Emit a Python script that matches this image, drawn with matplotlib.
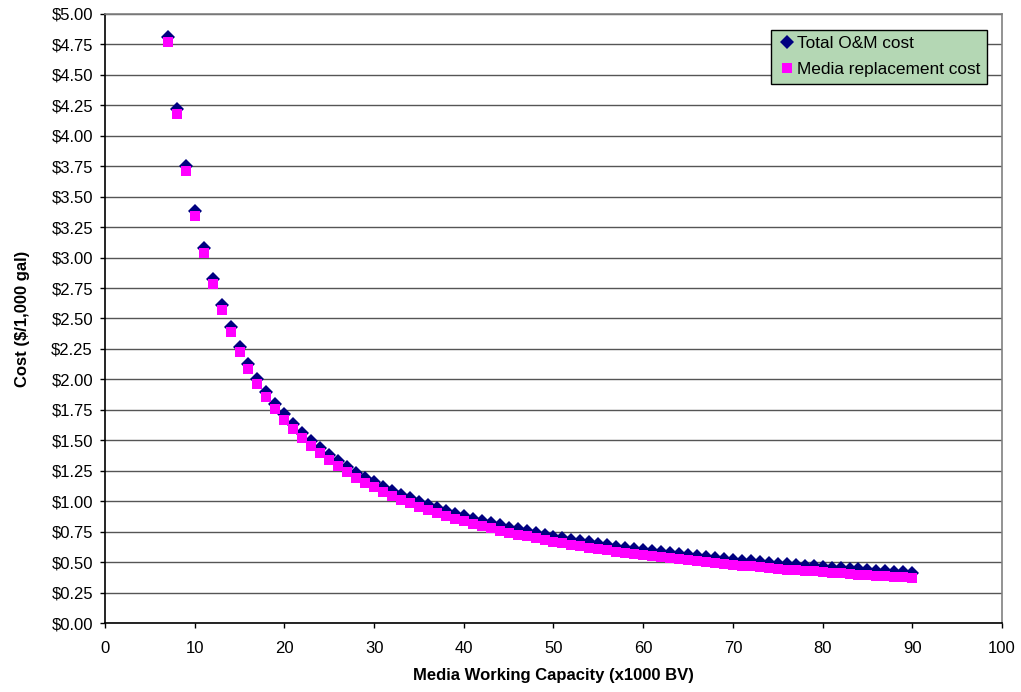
import matplotlib
matplotlib.use("Agg")
import matplotlib.pyplot as plt
from matplotlib.ticker import FuncFormatter, MultipleLocator

plt.rcParams['font.family'] = ['Liberation Sans', 'DejaVu Sans']

capacity = list(range(7, 91))
total_om = [4.813, 4.217, 3.753, 3.382, 3.078, 2.825, 2.611, 2.428, 2.269, 2.130,
            2.007, 1.898, 1.800, 1.712, 1.632, 1.560, 1.494, 1.434, 1.378, 1.327,
            1.279, 1.235, 1.194, 1.155, 1.119, 1.086, 1.054, 1.024, 0.996, 0.970,
            0.945, 0.921, 0.898, 0.877, 0.857, 0.837, 0.819, 0.801, 0.784, 0.768,
            0.753, 0.738, 0.724, 0.710, 0.697, 0.684, 0.672, 0.661, 0.649, 0.638,
            0.628, 0.618, 0.608, 0.599, 0.590, 0.581, 0.572, 0.564, 0.556, 0.548,
            0.541, 0.533, 0.526, 0.519, 0.512, 0.506, 0.500, 0.493, 0.487, 0.481,
            0.476, 0.470, 0.465, 0.460, 0.454, 0.449, 0.444, 0.440, 0.435, 0.430,
            0.426, 0.422, 0.417, 0.413]
media_cost = [4.771, 4.175, 3.711, 3.340, 3.036, 2.783, 2.569, 2.386, 2.227, 2.088,
              1.965, 1.856, 1.758, 1.670, 1.590, 1.518, 1.452, 1.392, 1.336, 1.285,
              1.237, 1.193, 1.152, 1.113, 1.077, 1.044, 1.012, 0.982, 0.954, 0.928,
              0.903, 0.879, 0.856, 0.835, 0.815, 0.795, 0.777, 0.759, 0.742, 0.726,
              0.711, 0.696, 0.682, 0.668, 0.655, 0.642, 0.630, 0.619, 0.607, 0.596,
              0.586, 0.576, 0.566, 0.557, 0.548, 0.539, 0.530, 0.522, 0.514, 0.506,
              0.499, 0.491, 0.484, 0.477, 0.470, 0.464, 0.458, 0.451, 0.445, 0.439,
              0.434, 0.428, 0.423, 0.418, 0.412, 0.407, 0.402, 0.398, 0.393, 0.388,
              0.384, 0.380, 0.375, 0.371]
series_names = ["Total O&M cost", "Media replacement cost"]

fig = plt.figure(figsize=(10.21, 6.92), dpi=100)
ax = fig.add_axes([0.1028, 0.0997, 0.8786, 0.8801])

ax.plot(capacity, total_om, linestyle='none', marker='D', markersize=7.2,
        color='#000080', markeredgewidth=0, label=series_names[0], zorder=3)
ax.plot(capacity, media_cost, linestyle='none', marker='s', markersize=7.2,
        color='#FF00FF', markeredgewidth=0, label=series_names[1], zorder=4)

ax.set_xlim(0, 100)
ax.set_ylim(0, 5)
ax.xaxis.set_major_locator(MultipleLocator(10))
ax.yaxis.set_major_locator(MultipleLocator(0.25))
ax.yaxis.set_major_formatter(FuncFormatter(lambda v, p: f"${v:.2f}"))
ax.grid(axis='y', color='#555555', linewidth=1.0, zorder=0)
ax.set_axisbelow(True)

for s in ['left', 'bottom']:
    ax.spines[s].set_color('black')
    ax.spines[s].set_linewidth(1.2)
for s in ['right', 'top']:
    ax.spines[s].set_color('#808080')
    ax.spines[s].set_linewidth(1.2)

ax.tick_params(axis='both', direction='out', length=3.6, width=1, labelsize=12,
               colors='black')
ax.tick_params(axis='y', pad=5)
ax.tick_params(axis='x', pad=9)

ax.set_xlabel("Media Working Capacity (x1000 BV)", fontsize=12, fontweight='bold', labelpad=9)
ax.set_ylabel("Cost ($/1,000 gal)", fontsize=12, fontweight='bold', labelpad=15)

leg = ax.legend(loc='upper right', bbox_to_anchor=(0.983, 0.974), fontsize=12.4,
                frameon=True, fancybox=False, shadow=False, borderpad=0.38,
                handletextpad=0.1, handlelength=1.0, labelspacing=0.62,
                borderaxespad=0)
leg.get_frame().set_facecolor('#B4D7B4')
leg.get_frame().set_edgecolor('black')
leg.get_frame().set_linewidth(1.0)
leg.get_frame().set_alpha(1)

fig.savefig("out.png", dpi=100)
